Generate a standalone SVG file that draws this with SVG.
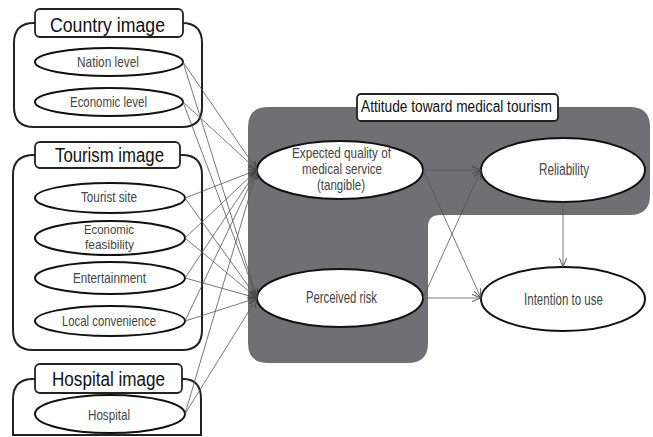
<svg xmlns="http://www.w3.org/2000/svg" width="653" height="437" viewBox="0 0 653 437">
<defs>
<style>
.grp{fill:none;stroke:#222;stroke-width:2}
.ttl{fill:#fff;stroke:#222;stroke-width:1.8}
.ell{fill:#fff;stroke:#111;stroke-width:2}
.t{font-family:"Liberation Sans",Arial,sans-serif;fill:#444;text-anchor:middle}
.big{font-size:20px;fill:#111}
.sm{font-size:15px}
.xs{font-size:13.5px}
.md{font-size:16px}
.mm{font-size:15px}
.ln{stroke:#555;stroke-width:0.8;fill:none;marker-end:url(#ah)}
</style>
<marker id="ah" viewBox="0 0 10 10" refX="10" refY="5" markerWidth="9" markerHeight="9" orient="auto" markerUnits="userSpaceOnUse">
<path d="M0,1 L10,5 L0,9" fill="none" stroke="#444" stroke-width="1"/>
</marker>
</defs>
<g id="attitude">
<path d="M268,107 H630 Q650,107 650,127 V195 Q650,215 630,215 H440 Q428,215 428,227 V343 Q428,363 408,363 H268 Q248,363 248,343 V127 Q248,107 268,107 Z" fill="#707074"/>
<rect x="357" y="94" width="201" height="27" rx="4" class="ttl"/>
<text x="456.5" y="112" class="t md" style="fill:#111" textLength="191" lengthAdjust="spacingAndGlyphs">Attitude toward medical tourism</text>
</g>
<g id="country">
<path d="M35,23 H34 Q14,23 14,43 V107 Q14,127 34,127 H182 Q202,127 202,107 V43 Q202,23 182,23 H183" class="grp"/>
<rect x="35" y="9" width="148" height="28" rx="5" class="ttl"/>
<text x="107.5" y="32" class="t big" textLength="115" lengthAdjust="spacingAndGlyphs">Country image</text>
</g>
<g id="nation"><ellipse cx="109" cy="62" rx="74" ry="14" class="ell"/><text x="108" y="67" class="t sm" textLength="62" lengthAdjust="spacingAndGlyphs">Nation level</text></g>
<g id="econlevel"><ellipse cx="109" cy="102" rx="74" ry="14" class="ell"/><text x="108.5" y="107" class="t sm" textLength="77" lengthAdjust="spacingAndGlyphs">Economic level</text></g>
<g id="tourism">
<path d="M35,155 H34 Q13,155 13,175 V330 Q13,350 33,350 H182 Q202,350 202,330 V175 Q202,155 182,155 H180" class="grp"/>
<rect x="35" y="142" width="145" height="26" rx="5" class="ttl"/>
<text x="109.5" y="162" class="t big" textLength="109" lengthAdjust="spacingAndGlyphs">Tourism image</text>
</g>
<g id="site"><ellipse cx="110" cy="198" rx="75" ry="15" class="ell"/><text x="109" y="202" class="t sm" textLength="56" lengthAdjust="spacingAndGlyphs">Tourist site</text></g>
<g id="feas"><ellipse cx="110" cy="238" rx="75" ry="17" class="ell"/><text x="109" y="234" class="t xs" textLength="50" lengthAdjust="spacingAndGlyphs">Economic</text><text x="109.5" y="249" class="t xs" textLength="49" lengthAdjust="spacingAndGlyphs">feasibility</text></g>
<g id="ent"><ellipse cx="110" cy="278" rx="75" ry="16" class="ell"/><text x="109.5" y="283" class="t sm" textLength="73" lengthAdjust="spacingAndGlyphs">Entertainment</text></g>
<g id="local"><ellipse cx="110" cy="321" rx="75" ry="15" class="ell"/><text x="109" y="326" class="t sm" textLength="94" lengthAdjust="spacingAndGlyphs">Local convenience</text></g>
<g id="hospitalimg">
<path d="M35,379 H33 Q13,379 13,399 V435 H201 V399 Q201,379 183,379 H182" class="grp"/>
<rect x="35" y="364" width="147" height="29" rx="5" class="ttl"/>
<text x="108.5" y="386" class="t big" textLength="113" lengthAdjust="spacingAndGlyphs">Hospital image</text>
</g>
<g id="hospital"><ellipse cx="110" cy="414" rx="75" ry="19" class="ell"/><text x="109" y="420" class="t sm" textLength="42" lengthAdjust="spacingAndGlyphs">Hospital</text></g>
<g id="expected"><ellipse cx="340" cy="170" rx="83" ry="29" class="ell"/><text x="341.5" y="158" class="t mm" textLength="99" lengthAdjust="spacingAndGlyphs">Expected quality of</text><text x="342" y="174" class="t mm" textLength="80" lengthAdjust="spacingAndGlyphs">medical service</text><text x="341" y="190" class="t mm" textLength="48" lengthAdjust="spacingAndGlyphs">(tangible)</text></g>
<g id="risk"><ellipse cx="340" cy="298" rx="83" ry="29" class="ell"/><text x="341.5" y="303" class="t md" textLength="71" lengthAdjust="spacingAndGlyphs">Perceived risk</text></g>
<g id="reliability"><ellipse cx="563" cy="170" rx="82" ry="32" class="ell"/><text x="564" y="175" class="t md" textLength="50" lengthAdjust="spacingAndGlyphs">Reliability</text></g>
<g id="intention"><ellipse cx="563" cy="299" rx="82" ry="32" class="ell"/><text x="563.5" y="305" class="t md" textLength="79" lengthAdjust="spacingAndGlyphs">Intention to use</text></g>
<g id="connectors">
<path d="M183,62 L257,170" class="ln"/><path d="M183,62 L257,298" class="ln"/>
<path d="M183,102 L257,170" class="ln"/><path d="M183,102 L257,298" class="ln"/>
<path d="M185,198 L257,170" class="ln"/><path d="M185,198 L257,298" class="ln"/>
<path d="M185,238 L257,170" class="ln"/><path d="M185,238 L257,298" class="ln"/>
<path d="M185,278 L257,170" class="ln"/><path d="M185,278 L257,298" class="ln"/>
<path d="M185,321 L257,170" class="ln"/><path d="M185,321 L257,298" class="ln"/>
<path d="M185,414 L257,170" class="ln"/><path d="M185,414 L257,298" class="ln"/>
<path d="M423,170 L481,170" class="ln"/>
<path d="M423,298 L481,298" class="ln"/>
<path d="M423,170 L481,298" class="ln"/>
<path d="M423,298 L481,170" class="ln"/>
<path d="M563,202 L563,267" class="ln"/>
</g>
</svg>
